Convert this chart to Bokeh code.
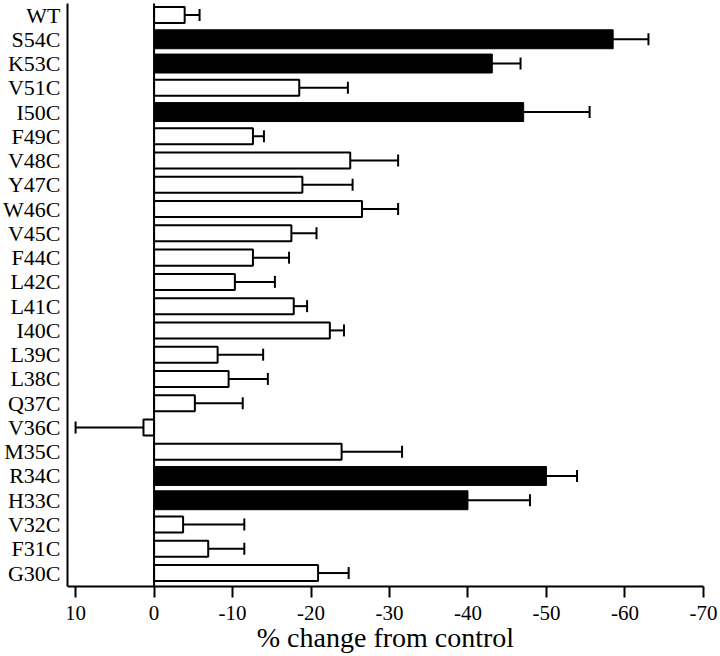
from bokeh.plotting import figure
from bokeh.models import Range1d, FixedTicker, Whisker, TeeHead, Label, ColumnDataSource
from bokeh.embed import file_html
from bokeh.resources import INLINE

categories = ["WT", "S54C", "K53C", "V51C", "I50C", "F49C", "V48C", "Y47C", "W46C",
              "V45C", "F44C", "L42C", "L41C", "I40C", "L39C", "L38C", "Q37C", "V36C",
              "M35C", "R34C", "H33C", "V32C", "F31C", "G30C"]
values = [-3.9, -58.5, -43.1, -18.5, -47.1, -12.6, -25.0, -18.9, -26.5,
          -17.5, -12.6, -10.3, -17.8, -22.4, -8.1, -9.5, -5.2, 1.35,
          -23.9, -50.0, -40.0, -3.7, -6.9, -20.9]
error_ends = [-5.8, -63.0, -46.7, -24.7, -55.5, -14.0, -31.1, -25.3, -31.1,
              -20.7, -17.2, -15.4, -19.5, -24.2, -13.9, -14.5, -11.3, 10.0,
              -31.6, -53.9, -47.9, -11.5, -11.5, -24.8]
filled = [False, True, True, False, True, False, False, False, False,
          False, False, False, False, False, False, False, False, False,
          False, True, True, False, False, False]
x_ticks = [10, 0, -10, -20, -30, -40, -50, -60, -70]
x_label = "% change from control"

FONT = "Liberation Serif"
X_LEFT, X_RIGHT, X_AXIS_END = 11.03, -72.18, -70
Y_TOP, Y_LINES_TOP, Y_AXIS, Y_FRAME_BOTTOM = -0.598, -0.474, 23.56, 26.44
Y_XLABEL = 25.64

pos = list(range(len(categories)))
white = ColumnDataSource(dict(
    y=[p for p, f in zip(pos, filled) if not f],
    v=[v for v, f in zip(values, filled) if not f]))
black = ColumnDataSource(dict(
    y=[p for p, f in zip(pos, filled) if f],
    v=[v for v, f in zip(values, filled) if f]))
err = ColumnDataSource(dict(y=pos, lo=values, hi=error_ends))

p = figure(width=720, height=656, output_backend="svg", toolbar_location=None,
           x_range=Range1d(X_LEFT, X_RIGHT), y_range=Range1d(Y_FRAME_BOTTOM, Y_TOP),
           min_border_left=66, min_border_right=0, min_border_top=0, min_border_bottom=0)
p.outline_line_color = None
p.xgrid.visible = False
p.ygrid.visible = False
p.background_fill_color = "white"
p.border_fill_color = "white"

p.hbar(y="y", left=0, right="v", height=0.66, source=white,
       fill_color="white", line_color="black", line_width=2)
p.hbar(y="y", left=0, right="v", height=0.78, source=black,
       fill_color="black", line_color="black", line_width=1)

wh = Whisker(source=err, base="y", lower="lo", upper="hi", dimension="width",
             line_color="black", line_width=2,
             upper_head=TeeHead(size=12, line_color="black", line_width=2),
             lower_head=None)
p.add_layout(wh)

# zero line from top of plot down to the x axis
p.segment(x0=[0], y0=[Y_LINES_TOP], x1=[0], y1=[Y_AXIS], line_color="black", line_width=2)

# y axis (categories)
ya = p.yaxis[0]
ya.ticker = FixedTicker(ticks=pos)
ya.major_label_overrides = {i: c for i, c in enumerate(categories)}
ya.bounds = (Y_LINES_TOP, Y_AXIS)
ya.major_tick_line_color = None
ya.minor_tick_line_color = None
ya.major_tick_out = 0
ya.major_tick_in = 0
ya.axis_line_width = 2
ya.axis_line_color = "black"
ya.major_label_text_font = FONT
ya.major_label_text_font_size = "22px"
ya.major_label_text_color = "black"
ya.major_label_standoff = 7

# x axis, drawn inside the frame at Y_AXIS
xa = p.xaxis[0]
xa.fixed_location = Y_AXIS
xa.bounds = (X_AXIS_END, X_LEFT)
xa.ticker = FixedTicker(ticks=x_ticks)
xa.major_label_overrides = {t: str(t) for t in x_ticks}
xa.minor_tick_line_color = None
xa.major_tick_out = 11
xa.major_tick_in = 0
xa.major_tick_line_width = 2
xa.major_tick_line_color = "black"
xa.axis_line_width = 2
xa.axis_line_color = "black"
xa.major_label_text_font = FONT
xa.major_label_text_font_size = "21px"
xa.major_label_text_color = "black"
xa.major_label_standoff = 8

p.add_layout(Label(x=(X_LEFT + X_AXIS_END) / 2, y=Y_XLABEL, text=x_label, text_align="center",
                   text_baseline="alphabetic", text_font=FONT, text_font_size="28px",
                   text_color="black"))

open("out.html", "w").write(file_html(p, INLINE))
